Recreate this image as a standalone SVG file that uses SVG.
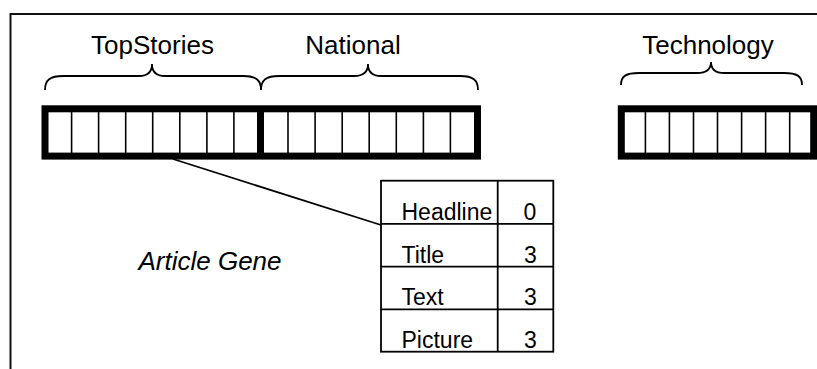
<svg xmlns="http://www.w3.org/2000/svg" width="817" height="369" viewBox="0 0 817 369">
<style>
.frame{fill:none;stroke:#111;stroke-width:2}
.bar{fill:#fff;stroke:#000;stroke-width:7}
.div{stroke:#000;stroke-width:1.6}
.thick{stroke:#000;stroke-width:7}
.brace{fill:none;stroke:#000;stroke-width:1.8}
.lbl{font-family:"Liberation Sans",Arial,sans-serif;font-size:26px;fill:#000}
.cell{font-family:"Liberation Sans",Arial,sans-serif;font-size:23px;fill:#000}
.tbl{fill:#fff;stroke:#000;stroke-width:1.8}
.tl{stroke:#000;stroke-width:1.8}
.conn{stroke:#000;stroke-width:1.8;fill:none}
</style>
<rect width="817" height="369" fill="#fff"/>
<path class="frame" d="M10.5,369 L10.5,14 L817,14"/>
<g id="connectors">
<line class="conn" x1="173" y1="159" x2="381" y2="225"/>
</g>
<g id="topstories">
<text class="lbl" x="152.5" y="54" text-anchor="middle">TopStories</text>
<path class="brace" d="M45,90 C45,80 50,76 63,76 L139,76 C148,76 152,72 152,64 C152,72 156,76 165,76 L243,76 C256,76 261,80 261,90"/>
</g>
<g id="national">
<text class="lbl" x="353" y="54" text-anchor="middle">National</text>
<path class="brace" d="M261,90 C261,80 266,76 279,76 L354,76 C363,76 368,72 368,64 C368,72 372,76 381,76 L460,76 C473,76 478,80 478,90"/>
</g>
<g id="technology">
<text class="lbl" x="708" y="54" text-anchor="middle">Technology</text>
<path class="brace" d="M621,85 C621,76 626,73 639,73 L697,73 C706,73 711,69 711,62 C711,69 715,73 724,73 L784,73 C797,73 802,76 802,85"/>
</g>
<g id="bar-left">
<rect class="bar" x="45" y="108.8" width="432.5" height="47.3"/>
<g class="div">
<line x1="71.6" y1="109" x2="71.6" y2="156"/>
<line x1="98.6" y1="109" x2="98.6" y2="156"/>
<line x1="125.7" y1="109" x2="125.7" y2="156"/>
<line x1="152.7" y1="109" x2="152.7" y2="156"/>
<line x1="179.8" y1="109" x2="179.8" y2="156"/>
<line x1="206.9" y1="109" x2="206.9" y2="156"/>
<line x1="233.9" y1="109" x2="233.9" y2="156"/>
<line x1="288" y1="109" x2="288" y2="156"/>
<line x1="315.1" y1="109" x2="315.1" y2="156"/>
<line x1="342.2" y1="109" x2="342.2" y2="156"/>
<line x1="369.2" y1="109" x2="369.2" y2="156"/>
<line x1="396.3" y1="109" x2="396.3" y2="156"/>
<line x1="423.4" y1="109" x2="423.4" y2="156"/>
<line x1="450.4" y1="109" x2="450.4" y2="156"/>
</g>
<line class="thick" x1="260.5" y1="109" x2="260.5" y2="156"/>
</g>
<g id="bar-right">
<rect class="bar" x="621.3" y="108.8" width="192.4" height="47.3"/>
<g class="div">
<line x1="645.4" y1="109" x2="645.4" y2="156"/>
<line x1="669.4" y1="109" x2="669.4" y2="156"/>
<line x1="693.5" y1="109" x2="693.5" y2="156"/>
<line x1="717.5" y1="109" x2="717.5" y2="156"/>
<line x1="741.6" y1="109" x2="741.6" y2="156"/>
<line x1="765.6" y1="109" x2="765.6" y2="156"/>
<line x1="789.7" y1="109" x2="789.7" y2="156"/>
</g>
</g>
<g id="gene-table">
<rect class="tbl" x="381" y="180.7" width="172.3" height="171"/>
<line class="tl" x1="497.7" y1="180.7" x2="497.7" y2="351.7"/>
<line class="tl" x1="381" y1="223.8" x2="553.3" y2="223.8"/>
<line class="tl" x1="381" y1="266.7" x2="553.3" y2="266.7"/>
<line class="tl" x1="381" y1="309.3" x2="553.3" y2="309.3"/>
<text class="cell" x="401.5" y="220">Headline</text>
<text class="cell" x="530" y="220" text-anchor="middle">0</text>
<text class="cell" x="401.5" y="262.5">Title</text>
<text class="cell" x="530.5" y="262.5" text-anchor="middle">3</text>
<text class="cell" x="401.5" y="305">Text</text>
<text class="cell" x="530.5" y="305" text-anchor="middle">3</text>
<text class="cell" x="401.5" y="348">Picture</text>
<text class="cell" x="530.5" y="348" text-anchor="middle">3</text>
</g>
<g id="article-gene">
<text class="lbl" x="210" y="270" text-anchor="middle" font-style="italic">Article Gene</text>
</g>
</svg>
